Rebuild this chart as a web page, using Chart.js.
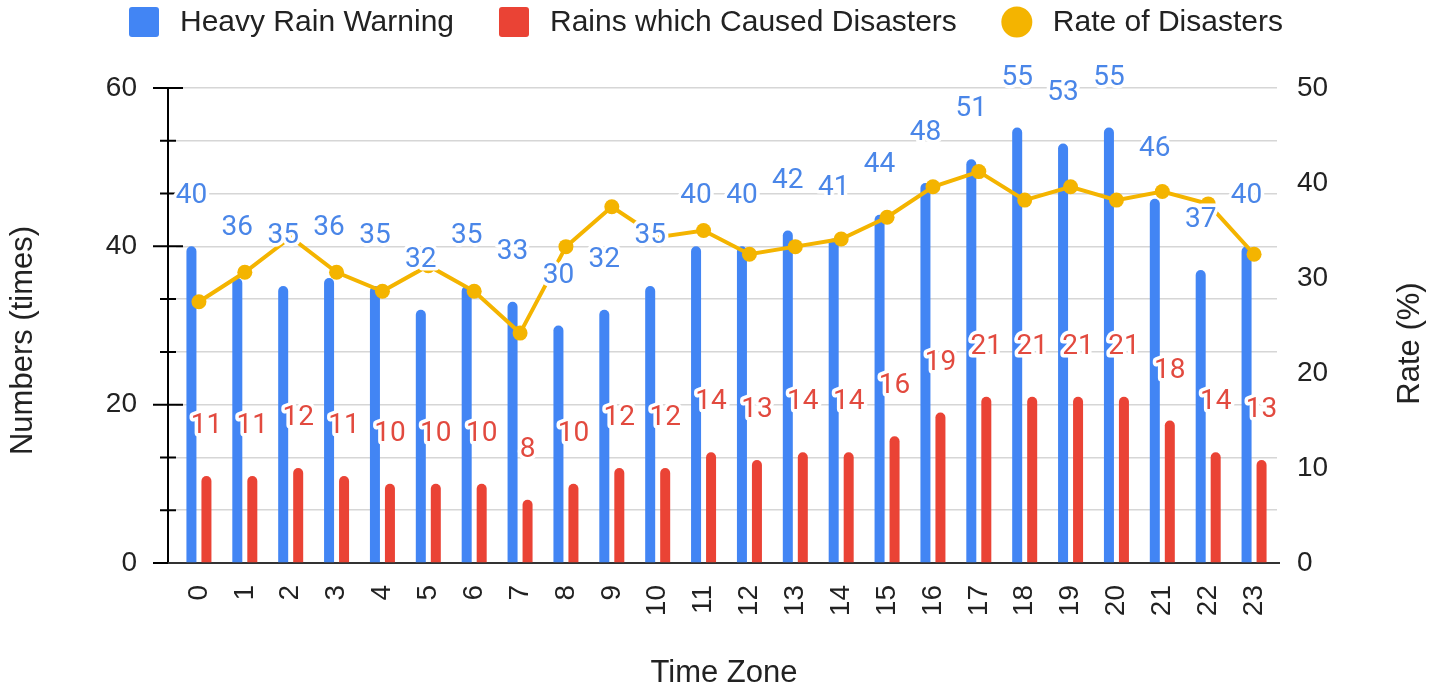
<!DOCTYPE html>
<html>
<head>
<meta charset="utf-8">
<title>Heavy Rain Warning / Disasters by time zone</title>
<script src="https://cdn.jsdelivr.net/npm/chart.js@4.4.1/dist/chart.umd.min.js"></script>
<style>
  html, body { margin: 0; padding: 0; background: #fff; }
  canvas { display: block; }
</style>
</head>
<body>
<canvas id="chart" width="1437" height="687"></canvas>
<script>
// Données
const timeZones = ['0','1','2','3','4','5','6','7','8','9','10','11',
                   '12','13','14','15','16','17','18','19','20','21','22','23'];
const heavyRainWarnings = [40,36,35,36,35,32,35,33,30,32,35,40,40,42,41,44,48,51,55,53,55,46,37,40];
const disasterRains     = [11,11,12,11,10,10,10,8,10,12,12,14,13,14,14,16,19,21,21,21,21,18,14,13];
const disasterRate      = [27.5,30.6,34.3,30.6,28.6,31.3,28.6,24.2,33.3,37.5,34.3,35.0,
                           32.5,33.3,34.1,36.4,39.6,41.2,38.2,39.6,38.2,39.1,37.8,32.5];
const countTicks = [0, 20, 40, 60];
const rateTicks  = [0, 10, 20, 30, 40, 50];

const BLUE = '#4285f4', RED = '#ea4335', YELLOW = '#f4b400';
const SANS = '"Liberation Sans", Arial, sans-serif';

const isMajor = v => countTicks.some(t => Math.abs(t - v) < 1e-6);

// axe gauche, légende, titres, étiquettes de valeurs
const decor = {
  id: 'decor',
  beforeDatasetsDraw(chart) {
    const { ctx, chartArea, scales } = chart;
    const y = scales.yCount;
    const ax = chartArea.left - 8;
    ctx.save();
    ctx.strokeStyle = '#000';
    ctx.lineWidth = 2;
    ctx.beginPath();
    ctx.moveTo(ax, y.getPixelForValue(y.max));
    ctx.lineTo(ax, y.getPixelForValue(y.min));
    y.ticks.forEach(t => {
      const py = y.getPixelForValue(t.value);
      const len = isMajor(t.value) ? 15 : 8;
      ctx.moveTo(ax - len, py);
      ctx.lineTo(ax + len, py);
    });
    ctx.stroke();
    // ligne de base
    ctx.strokeStyle = '#333';
    ctx.beginPath();
    const by = y.getPixelForValue(0);
    ctx.moveTo(ax, by);
    ctx.lineTo(chartArea.right + 3, by);
    ctx.stroke();
    ctx.restore();
  },
  afterDatasetsDraw(chart) {
    const ctx = chart.ctx;
    ctx.save();
    ctx.font = '28px Roboto';
    ctx.textAlign = 'center';
    ctx.textBaseline = 'middle';
    ctx.lineJoin = 'round';
    ctx.lineWidth = 7;
    ctx.strokeStyle = '#fff';
    chart.data.datasets.forEach((ds, i) => {
      if (!ds.labelColor) return;
      chart.getDatasetMeta(i).data.forEach((bar, j) => {
        const txt = String(ds.data[j]);
        ctx.strokeText(txt, bar.x, bar.y - 50);
        ctx.fillStyle = ds.labelColor;
        ctx.fillText(txt, bar.x, bar.y - 50);
      });
    });
    ctx.restore();
  },
  afterDraw(chart) {
    const { ctx, chartArea } = chart;
    ctx.save();
    ctx.fillStyle = '#222';
    ctx.font = '30px ' + SANS;
    ctx.textBaseline = 'middle';

    // légende
    let x = 129;
    const ly = 22;
    chart.data.datasets.forEach(ds => {
      ctx.fillStyle = ds.backgroundColor;
      ctx.beginPath();
      if (ds.type === 'line') {
        ctx.arc(x + 15, ly, 15.5, 0, Math.PI * 2);
      } else {
        ctx.roundRect(x, ly - 15, 30, 30, 3);
      }
      ctx.fill();
      x += 30 + 21;
      ctx.fillStyle = '#222';
      ctx.textAlign = 'left';
      ctx.fillText(ds.label, x, ly + 1);
      x += ctx.measureText(ds.label).width + 45;
    });

    // titres des axes
    ctx.font = '31px ' + SANS;
    const midY = (chartArea.top + chartArea.bottom) / 2;
    ctx.textAlign = 'center';
    ctx.fillText('Time Zone', 724, 673);
    [['Numbers (times)', 23, midY + 15], ['Rate (%)', 1410, midY + 18]].forEach(([t, tx, ty]) => {
      ctx.save();
      ctx.translate(tx, ty);
      ctx.rotate(-Math.PI / 2);
      ctx.fillText(t, 0, 0);
      ctx.restore();
    });
    ctx.restore();
  }
};

new Chart(document.getElementById('chart'), {
  data: {
    labels: timeZones,
    datasets: [
      {
        type: 'bar',
        label: 'Heavy Rain Warning',
        data: heavyRainWarnings,
        yAxisID: 'yCount',
        backgroundColor: BLUE,
        borderRadius: 5,
        categoryPercentage: 0.654,
        barPercentage: 0.667,
        labelColor: '#4a86e8',
        order: 1
      },
      {
        type: 'bar',
        label: 'Rains which Caused Disasters',
        data: disasterRains,
        yAxisID: 'yCount',
        backgroundColor: RED,
        borderRadius: 5,
        categoryPercentage: 0.654,
        barPercentage: 0.667,
        labelColor: '#e24a3f',
        order: 1
      },
      {
        type: 'line',
        label: 'Rate of Disasters',
        data: disasterRate,
        yAxisID: 'yRate',
        borderColor: YELLOW,
        backgroundColor: YELLOW,
        borderWidth: 4,
        pointRadius: 7.5,
        pointBorderWidth: 0,
        pointBackgroundColor: YELLOW,
        tension: 0,
        order: 0
      }
    ]
  },
  options: {
    responsive: false,
    animation: false,
    devicePixelRatio: 1,
    events: [],
    layout: { padding: { top: 88, left: 0, right: 0, bottom: 0 } },
    plugins: {
      legend: { display: false },
      tooltip: { enabled: false }
    },
    scales: {
      x: {
        offset: true,
        grid: { display: false },
        border: { display: false },
        ticks: {
          autoSkip: false,
          minRotation: 90,
          maxRotation: 90,
          padding: 14,
          color: '#222',
          font: { family: SANS, size: 28 }
        },
        afterFit: s => { s.height = 124; }
      },
      yCount: {
        position: 'left',
        min: countTicks[0],
        max: countTicks[countTicks.length - 1],
        grid: { color: '#d6d6d6', lineWidth: 1.5, drawTicks: false },
        border: { display: false },
        ticks: {
          count: 10,
          padding: 39,
          color: '#222',
          font: { family: SANS, size: 28 },
          callback: v => isMajor(v) ? String(Math.round(v)) : ''
        },
        afterFit: s => { s.width = 176; }
      },
      yRate: {
        position: 'right',
        min: rateTicks[0],
        max: rateTicks[rateTicks.length - 1],
        grid: { drawOnChartArea: false, drawTicks: false },
        border: { display: false },
        ticks: {
          stepSize: rateTicks[1] - rateTicks[0],
          padding: 20,
          color: '#222',
          font: { family: SANS, size: 28 }
        },
        afterFit: s => { s.width = 160; }
      }
    }
  },
  plugins: [decor]
});
</script>
</body>
</html>
